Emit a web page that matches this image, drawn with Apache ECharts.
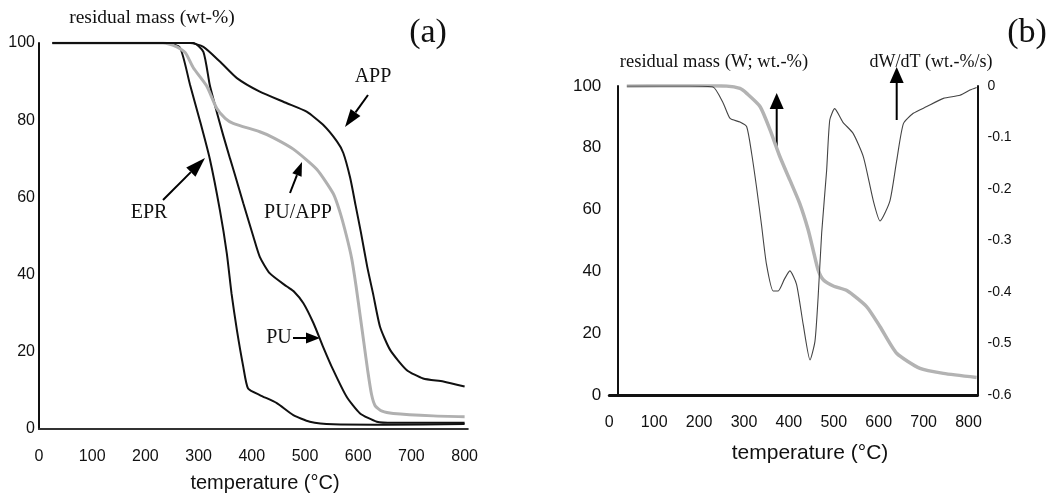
<!DOCTYPE html>
<html>
<head>
<meta charset="utf-8">
<script src="https://cdn.jsdelivr.net/npm/echarts@6/dist/echarts.min.js"></script>
<style>
html,body{margin:0;padding:0;background:#fff;}
#c{width:1054px;height:495px;}
</style>
</head>
<body>
<div id="c"></div>
<script>
// ---- Panel (a): residual mass (wt-%) vs temperature (°C)
const xTicksA = [0,100,200,300,400,500,600,700,800];
const yTicksA = [0,20,40,60,80,100];
const eprData = [[25,100],[240,100],[265,98.8],[284,89.1],[303,79.6],[321,70],[340,56.7],[353,45.5],[362,35],[372,25.6],[384,16.1],[393,10.5],[415,8.8],[447,6.7],[478,3.6],[509,1.9],[553,1.2],[650,1.1],[800,1.3]];
const puData = [[25,100],[290,100],[309,97.7],[321,89.1],[334,82.2],[346,76.2],[359,70.1],[368,66],[384,58.5],[403,49.8],[415,44.6],[434,40.3],[466,36.9],[480,35.5],[497,32.6],[516,27.4],[534,21.3],[553,15.3],[578,8.4],[603,4.1],[635,1.9],[666,1.6],[800,1.6]];
const appData = [[25,100],[284,100],[309,99],[340,95.2],[372,90.9],[415,87.4],[466,84.4],[503,82.2],[534,78.8],[560,74.5],[572,71.5],[585,65],[595,58],[605,51],[617,42],[628,35],[641,26.5],[660,20.5],[691,15.3],[722,13.1],[760,12.3],[800,11.0]];
const puAppData = [[25,100],[233,100],[259,99],[275,97.5],[290,93.6],[315,88.9],[334,83.1],[350,80.5],[365,79.2],[415,77],[440,75.5],[478,72.5],[522,67.3],[553,61],[565,56.5],[578,50],[588,44],[596,37],[604,29],[611,22],[618,15],[625,9],[632,6],[645,4.6],[666,4.0],[741,3.4],[800,3.2]];

// ---- Panel (b): residual mass W and dW/dT vs temperature
const xTicksB = [0,100,200,300,400,500,600,700,800];
const yTicksB = [0,20,40,60,80,100];
const yTicksBRight = [-0.6,-0.5,-0.4,-0.3,-0.2,-0.1,0];
const massB = [[39,100],[179,100.2],[261,100],[291,99.2],[306,97.6],[336,93.3],[358,85.8],[380,77.1],[402,69.6],[424,62],[443,53.4],[454,46.9],[465,40.5],[477,37.2],[500,35.2],[529,33.8],[573,28.6],[603,22.1],[640,13.5],[692,8.6],[744,7.0],[818,5.7]];
const dwdtB = [[39,0],[179,0],[231,-0.002],[254,-0.034],[269,-0.063],[291,-0.07],[306,-0.079],[317,-0.131],[328,-0.197],[339,-0.27],[350,-0.346],[365,-0.398],[376,-0.398],[390,-0.375],[402,-0.359],[417,-0.385],[432,-0.464],[447,-0.532],[458,-0.496],[465,-0.411],[473,-0.285],[484,-0.164],[491,-0.066],[502,-0.044],[520,-0.07],[543,-0.092],[566,-0.138],[588,-0.223],[603,-0.262],[625,-0.223],[640,-0.145],[655,-0.073],[677,-0.053],[707,-0.04],[744,-0.024],[781,-0.018],[803,-0.008],[818,-0.003]];

const SANS = '"Liberation Sans", Arial, sans-serif';
const SERIF = '"Liberation Serif", "Times New Roman", serif';

function arrow(x1,y1,x2,y2,L,W){
  const dx=x2-x1, dy=y2-y1, len=Math.hypot(dx,dy);
  const ux=dx/len, uy=dy/len, nx=-uy, ny=ux;
  const bx=x2-ux*L, by=y2-uy*L;
  return [
    {type:'line',shape:{x1:x1,y1:y1,x2:bx,y2:by},style:{stroke:'#000',lineWidth:2}},
    {type:'polygon',shape:{points:[[x2,y2],[bx+nx*W/2,by+ny*W/2],[bx-nx*W/2,by-ny*W/2]]},style:{fill:'#000'}}
  ];
}
function txt(s,x,y,size,font){
  return {type:'text',x:x,y:y,style:{text:s,font:size+'px '+font,fill:'#111',textAlign:'center',textVerticalAlign:'middle'}};
}

const chart = echarts.init(document.getElementById('c'), null, {renderer:'canvas'});
const axisLineStyle = {color:'#111', width:2};
const option = {
  animation:false,
  backgroundColor:'#fff',
  grid:[
    {left:39, top:43, width:428.8, height:386},
    {left:609.3, top:86, width:368.2, height:309}
  ],
  xAxis:[
    {gridIndex:0,type:'value',min:0,max:806,interval:100,
     axisLine:{lineStyle:{color:'#333',width:2}},axisTick:{show:false},splitLine:{show:false},
     axisLabel:{margin:20,fontSize:16,fontFamily:SANS,color:'#111',formatter:v=>xTicksA.includes(v)?String(v):''}},
    {gridIndex:1,type:'value',min:0,max:820,interval:100,
     axisLine:{lineStyle:{color:'#111',width:3}},axisTick:{show:false},splitLine:{show:false},
     axisLabel:{margin:20,fontSize:16,fontFamily:SANS,color:'#111',formatter:v=>xTicksB.includes(v)?String(v):''}}
  ],
  yAxis:[
    {gridIndex:0,type:'value',min:0,max:100,interval:20,
     axisLine:{show:true,lineStyle:axisLineStyle},axisTick:{show:false},splitLine:{show:false},
     axisLabel:{margin:4,fontSize:16,fontFamily:SANS,color:'#111',formatter:v=>yTicksA.includes(v)?String(v):''}},
    {gridIndex:1,type:'value',min:0,max:100,interval:20,offset:-8,
     axisLine:{show:true,lineStyle:axisLineStyle},axisTick:{show:false},splitLine:{show:false},
     axisLabel:{margin:16,fontSize:17,fontFamily:SANS,color:'#111',formatter:v=>yTicksB.includes(v)?String(v):''}},
    {gridIndex:1,type:'value',position:'right',min:-0.6,max:0,interval:0.1,
     axisLine:{show:true,lineStyle:axisLineStyle},axisTick:{show:false},splitLine:{show:false},
     axisLabel:{margin:10,fontSize:14,fontFamily:SANS,color:'#111',
       formatter:v=>{const r=Math.round(v*10)/10; return yTicksBRight.includes(r)?(r===0?'0':r.toFixed(1)):'';}}}
  ],
  series:[
    {name:'EPR',type:'line',xAxisIndex:0,yAxisIndex:0,data:eprData,showSymbol:false,smooth:0.2,lineStyle:{color:'#111',width:2}},
    {name:'PU',type:'line',xAxisIndex:0,yAxisIndex:0,data:puData,showSymbol:false,smooth:0.2,lineStyle:{color:'#111',width:2}},
    {name:'PU/APP',type:'line',xAxisIndex:0,yAxisIndex:0,data:puAppData,showSymbol:false,smooth:0.2,lineStyle:{color:'#b0b0b0',width:3}},
    {name:'APP',type:'line',xAxisIndex:0,yAxisIndex:0,data:appData,showSymbol:false,smooth:0.2,lineStyle:{color:'#111',width:2}},
    {name:'W',type:'line',xAxisIndex:1,yAxisIndex:1,data:massB,showSymbol:false,smooth:0.2,lineStyle:{color:'#b3b3b3',width:3.5}},
    {name:'dW/dT',type:'line',xAxisIndex:1,yAxisIndex:2,data:dwdtB,showSymbol:false,smooth:0.2,lineStyle:{color:'#444',width:1.1}}
  ],
  graphic:[
    txt('residual mass (wt-%)',152,18,19.5,SERIF),
    txt('(a)',428,33,34,SERIF),
    txt('temperature (°C)',265,483,20,SANS),
    txt('APP',373,77,20,SERIF),
    txt('EPR',149,213,20,SERIF),
    txt('PU/APP',298,213,20,SERIF),
    txt('PU',279,338,20,SERIF),
    ...arrow(368,95,345,127,18,12),
    ...arrow(163,200,205,158,20,13),
    ...arrow(290,193,302,162,14,10),
    ...arrow(293,338,320,338,14,11),
    txt('(b)',1027,33,34,SERIF),
    txt('residual mass (W; wt.-%)',714,62,18.5,SERIF),
    txt('dW/dT (wt.-%/s)',931,62,18,SERIF),
    txt('temperature (°C)',810,453,21,SANS),
    ...arrow(776.7,147,776.7,93,16,14),
    ...arrow(896.7,120,896.7,67,16,14)
  ]
};
chart.setOption(option);
</script>
</body>
</html>
